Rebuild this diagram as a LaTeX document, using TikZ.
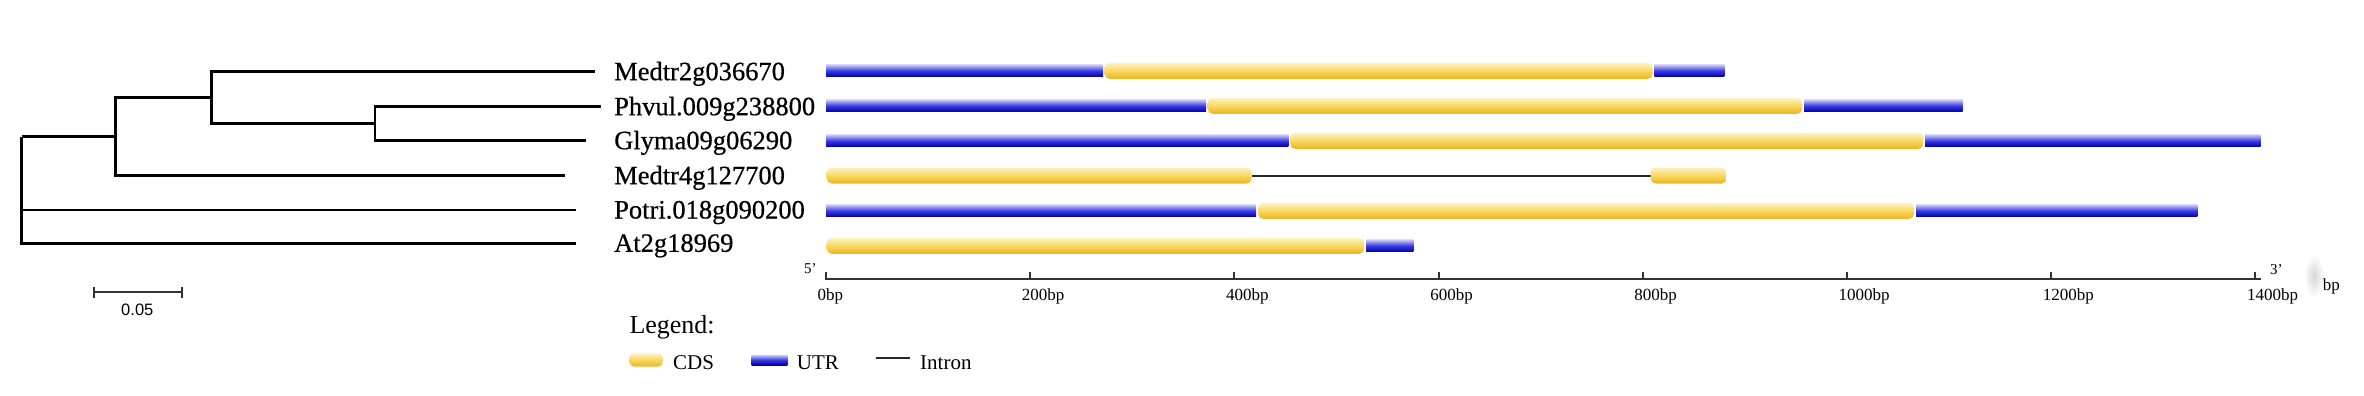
\documentclass[tikz,border=0pt]{standalone}
\usepackage{fontspec}
\setmainfont{Liberation Serif}
\newfontfamily\arialf{Liberation Sans}
\newfontfamily\genefont[FakeBold=0.5]{Liberation Serif}
\definecolor{cdsTop}{HTML}{FDF2C4}
\definecolor{cdsMid}{HTML}{F8D860}
\definecolor{cdsBot}{HTML}{E9B522}
\definecolor{utrTop}{HTML}{C8C8F7}
\definecolor{utrMid}{HTML}{3A3AE4}
\definecolor{utrBot}{HTML}{0000A6}
\definecolor{axisgray}{HTML}{333333}
\newcommand\mycds[3]{\shade[cds] (#1,#3-8) rectangle (#2,#3+8);}
\newcommand\myutr[3]{\shade[utr] (#1,#3-6) rectangle (#2,#3+6);}
\begin{document}
\begin{tikzpicture}[x=1pt,y=-1pt,
  tree/.style={line width=2.8pt, line join=miter},
  cds/.style={rounded corners=5pt, top color=cdsTop, bottom color=cdsBot, middle color=cdsMid},
  utr/.style={top color=utrTop, bottom color=utrBot, middle color=utrMid},
  intron/.style={line width=2pt, color=black!85},
  gene/.style={anchor=base west, inner sep=0pt, font=\genefont\fontsize{26.5}{30}\selectfont},
  tick/.style={anchor=base west, inner sep=0pt, font=\fontsize{17}{20}\selectfont},
  legtext/.style={anchor=base west, inner sep=0pt, font=\fontsize{21}{24}\selectfont},
  axisline/.style={line width=2pt, color=axisgray}]
\useasboundingbox (0,0) rectangle (2364,396);
\fill[white] (0,0) rectangle (2364,396);

% ---------- tree ----------
\coordinate (R) at (21.7,136.5);
\coordinate (A) at (115.7,136.5);
\coordinate (B) at (211.7,97.5);
\coordinate (C) at (375,123.7);
\coordinate (e1) at (594.6,71.7);
\coordinate (e2) at (600.5,106.7);
\coordinate (e3) at (586.4,140.7);
\coordinate (e4) at (565.3,175.7);
\coordinate (e5) at (575.6,210);
\coordinate (e6) at (575.6,243.3);
\draw[tree] (C) |- (e2);
\draw[tree] (C) |- (e3);
\draw[tree] (B) |- (e1);
\draw[tree] (B) |- (C);
\draw[tree] (A) |- (B);
\draw[tree] (A) |- (e4);
\draw[tree] (R) |- (A);
\draw[tree] (R) |- (e5);
\draw[tree] (R) |- (e6);

% scale bar
\coordinate (s1) at (94,292.3);
\coordinate (s2) at (181.7,292.3);
\draw[line width=2pt, color=axisgray] (s1) -- (s2);
\draw[line width=2pt, color=axisgray] ([yshift=5.8pt]s1) -- ([yshift=-5.8pt]s1);
\draw[line width=2pt, color=axisgray] ([yshift=5.8pt]s2) -- ([yshift=-5.8pt]s2);
\node[anchor=base, inner sep=0pt, font=\arialf\fontsize{16.5}{20}\selectfont] (sc) at (137.3,315) {0.05};

% ---------- labels ----------
\node[gene] (l1) at (614,80.2) {Medtr2g036670};
\node[gene] (l2) at (614,115.2) {Phvul.009g238800};
\node[gene] (l3) at (614,149.2) {Glyma09g06290};
\node[gene] (l4) at (614,184.2) {Medtr4g127700};
\node[gene] (l5) at (614,218.5) {Potri.018g090200};
\node[gene] (l6) at (614,251.8) {At2g18969};

% ---------- gene structures ----------
% row 1
\myutr{826}{1103}{70.8}
\mycds{1104.5}{1652.7}{70.8}
\myutr{1654.3}{1724.3}{70.8}
% row 2
\myutr{826}{1206}{105.8}
\mycds{1207.7}{1802.3}{105.8}
\myutr{1804}{1962.7}{105.8}
% row 3
\myutr{826}{1288.3}{140.8}
\mycds{1290}{1923.3}{140.8}
\myutr{1925}{2260.7}{140.8}
% row 4
\coordinate (i1) at (1251.7,175.5);
\coordinate (i2) at (1650.5,175.5);
\draw[intron] (i1) -- (i2);
\mycds{826.7}{1251.7}{175.5}
\mycds{1650.5}{1726.7}{175.5}
% row 5
\myutr{826}{1256}{210.8}
\mycds{1258}{1914}{210.8}
\myutr{1916}{2197.3}{210.8}
% row 6
\mycds{826.7}{1364.3}{245.8}
\myutr{1366}{1413.3}{245.8}

% ---------- axis ----------
\coordinate (a0) at (826,279.3);
\coordinate (a1) at (2260.7,279.3);
\draw[axisline] (a0) -- (a1);
\foreach \i/\lab in {0/0bp,1/200bp,2/400bp,3/600bp,4/800bp,5/1000bp,6/1200bp,7/1400bp}{
  \draw[axisline] (826+204.19*\i,280.3) -- (826+204.19*\i,272.3);
  \node[tick] at (817.5+204.19*\i,300.7) {\lab};
}
\node[anchor=base west, inner sep=0pt, font=\fontsize{15}{18}\selectfont] (p5) at (804,273) {5'};
\node[anchor=base west, inner sep=0pt, font=\fontsize{15}{18}\selectfont] (p3) at (2270,274) {3'};
\shade[inner color=black!16, outer color=white] (2314,276) ellipse (10 and 22);
\node[tick] (bp) at (2322.7,290) {bp};

% ---------- legend ----------
\node[anchor=base west, inner sep=0pt, font=\fontsize{26}{30}\selectfont] (leg) at (629.3,333.3) {Legend:};
\shade[cds] (629,353.3) rectangle (663,366.5);
\node[legtext] (tc) at (673,369.3) {CDS};
\shade[utr] (751.7,355) rectangle (787.3,365);
\node[legtext] (tu) at (796.7,369.3) {UTR};
\coordinate (li1) at (876,357.7);
\coordinate (li2) at (910,357.7);
\draw[line width=2pt, color=black!85] (li1) -- (li2);
\node[legtext] (ti) at (920,369.3) {Intron};
\end{tikzpicture}
\end{document}
